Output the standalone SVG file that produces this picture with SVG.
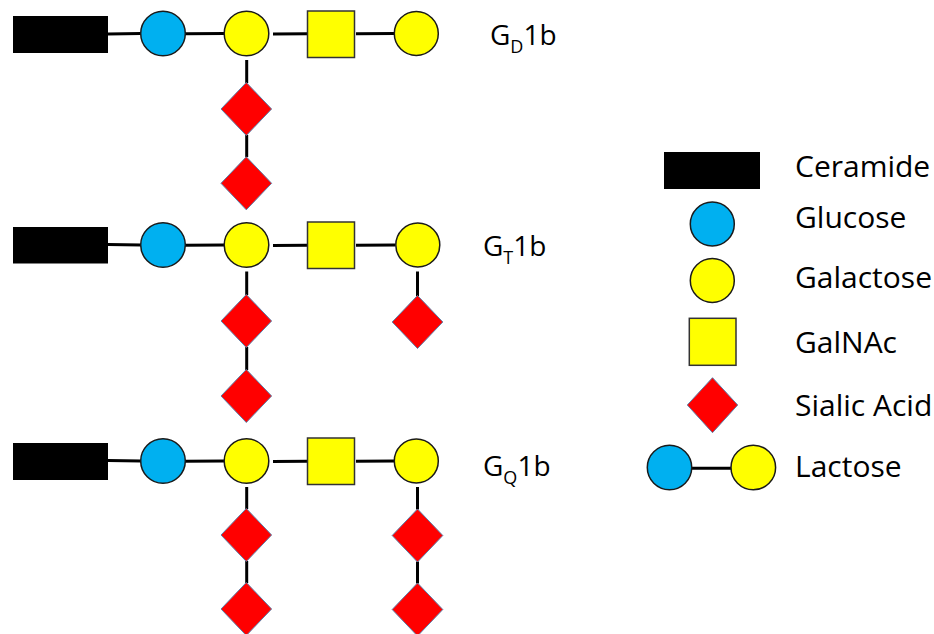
<svg xmlns="http://www.w3.org/2000/svg" width="934" height="634" viewBox="0 0 934 634">
<style>
.cer{fill:#000000;}
.glc{fill:#00B0F0;stroke:#1a1a1a;stroke-width:1.5;}
.gal{fill:#FFFF00;stroke:#1a1a1a;stroke-width:1.5;}
.nac{fill:#FFFF00;stroke:#333333;stroke-width:1.5;}
.sia{fill:#FF0000;stroke:#5B7FA8;stroke-width:1;}
.ln{stroke:#000000;stroke-width:3;fill:none;}
.lbl{font-family:"Open Sans","Liberation Sans",sans-serif;font-size:28px;fill:#000000;}
.leg{font-family:"Open Sans","Liberation Sans",sans-serif;font-size:30px;fill:#000000;}
</style>
<defs>
<polygon id="dia" points="0,-26.5 25.3,0 0,26.5 -25.3,0"/>
</defs>
<rect width="934" height="634" fill="#ffffff"/>

<!-- connectors -->
<g id="connectors">
  <g id="c-gd1b">
    <line class="ln" x1="108" y1="34" x2="141" y2="33.5"/>
    <line class="ln" x1="185" y1="33.7" x2="224" y2="33.5"/>
    <line class="ln" x1="273" y1="34" x2="307.5" y2="33.7"/>
    <line class="ln" x1="356" y1="33.7" x2="394.5" y2="33.5"/>
    <line class="ln" x1="246.7" y1="60" x2="246.7" y2="83"/>
    <line class="ln" x1="246.7" y1="135" x2="246.7" y2="157"/>
  </g>
  <g id="c-gt1b">
    <line class="ln" x1="108" y1="244.5" x2="141" y2="245"/>
    <line class="ln" x1="185" y1="245.3" x2="224" y2="245"/>
    <line class="ln" x1="273" y1="245.5" x2="307.5" y2="245.2"/>
    <line class="ln" x1="356" y1="245.2" x2="395.5" y2="245"/>
    <line class="ln" x1="246.7" y1="271.5" x2="246.7" y2="295"/>
    <line class="ln" x1="246.7" y1="347" x2="246.7" y2="370"/>
    <line class="ln" x1="417.5" y1="271.5" x2="417.5" y2="296"/>
  </g>
  <g id="c-gq1b">
    <line class="ln" x1="108" y1="460.5" x2="141" y2="461"/>
    <line class="ln" x1="185" y1="461.3" x2="224" y2="461"/>
    <line class="ln" x1="273" y1="461.5" x2="307.5" y2="461.2"/>
    <line class="ln" x1="356" y1="461.2" x2="394.5" y2="461"/>
    <line class="ln" x1="246.7" y1="487" x2="246.7" y2="509"/>
    <line class="ln" x1="246.7" y1="561" x2="246.7" y2="583"/>
    <line class="ln" x1="417.5" y1="487" x2="417.5" y2="509.5"/>
    <line class="ln" x1="417.5" y1="561.5" x2="417.5" y2="583.5"/>
  </g>
  <g id="c-legend">
    <line class="ln" x1="691.7" y1="468.3" x2="731" y2="468.3"/>
  </g>
</g>

<!-- GD1b -->
<g id="gd1b">
  <g id="gd1b-cer"><rect class="cer" x="13" y="16" width="95" height="37"/></g>
  <g id="gd1b-glc"><circle class="glc" cx="163" cy="33.5" r="22.3"/></g>
  <g id="gd1b-gal1"><circle class="gal" cx="246.5" cy="33.5" r="22.3"/></g>
  <g id="gd1b-galnac"><rect class="nac" x="307.5" y="11" width="47" height="46.5"/></g>
  <g id="gd1b-gal2"><circle class="gal" cx="416.3" cy="33.5" r="22"/></g>
  <g id="gd1b-sia1"><use href="#dia" class="sia" x="246.3" y="109"/></g>
  <g id="gd1b-sia2"><use href="#dia" class="sia" x="246.3" y="183.3"/></g>
  <g id="gd1b-label"><text class="lbl" x="490" y="45">G<tspan font-size="18" dy="8">D</tspan><tspan dy="-8">1b</tspan></text></g>
</g>

<!-- GT1b -->
<g id="gt1b">
  <g id="gt1b-cer"><rect class="cer" x="13" y="227" width="95" height="36.5"/></g>
  <g id="gt1b-glc"><circle class="glc" cx="163" cy="245" r="22.3"/></g>
  <g id="gt1b-gal1"><circle class="gal" cx="246.5" cy="245" r="22.3"/></g>
  <g id="gt1b-galnac"><rect class="nac" x="307.5" y="222" width="47" height="46.5"/></g>
  <g id="gt1b-gal2"><circle class="gal" cx="417.8" cy="245" r="22"/></g>
  <g id="gt1b-sia1"><use href="#dia" class="sia" x="246.3" y="321"/></g>
  <g id="gt1b-sia2"><use href="#dia" class="sia" x="246.3" y="396"/></g>
  <g id="gt1b-sia3"><use href="#dia" class="sia" x="417.5" y="322"/></g>
  <g id="gt1b-label"><text class="lbl" x="483" y="256">G<tspan font-size="18" dy="8">T</tspan><tspan dy="-8">1b</tspan></text></g>
</g>

<!-- GQ1b -->
<g id="gq1b">
  <g id="gq1b-cer"><rect class="cer" x="13" y="443" width="95" height="37"/></g>
  <g id="gq1b-glc"><circle class="glc" cx="163" cy="461" r="22.3"/></g>
  <g id="gq1b-gal1"><circle class="gal" cx="246.5" cy="461" r="22.3"/></g>
  <g id="gq1b-galnac"><rect class="nac" x="307.5" y="438" width="47" height="46.5"/></g>
  <g id="gq1b-gal2"><circle class="gal" cx="416.3" cy="461" r="22"/></g>
  <g id="gq1b-sia1"><use href="#dia" class="sia" x="246.3" y="535"/></g>
  <g id="gq1b-sia2"><use href="#dia" class="sia" x="246.3" y="609"/></g>
  <g id="gq1b-sia3"><use href="#dia" class="sia" x="417.5" y="535.5"/></g>
  <g id="gq1b-sia4"><use href="#dia" class="sia" x="417.5" y="609.5"/></g>
  <g id="gq1b-label"><text class="lbl" x="483" y="476">G<tspan font-size="18" dy="8">Q</tspan><tspan dy="-8">1b</tspan></text></g>
</g>

<!-- Legend -->
<g id="legend">
  <g id="leg-ceramide"><rect class="cer" x="664" y="152" width="96" height="37"/><text class="leg" x="795" y="176.7">Ceramide</text></g>
  <g id="leg-glucose"><circle class="glc" cx="712.3" cy="224" r="22"/><text class="leg" x="795" y="228.3">Glucose</text></g>
  <g id="leg-galactose"><circle class="gal" cx="712.3" cy="280.5" r="22"/><text class="leg" x="795" y="288.3">Galactose</text></g>
  <g id="leg-galnac"><rect class="nac" x="689.3" y="318.3" width="46.7" height="47"/><text class="leg" x="795" y="353.3">GalNAc</text></g>
  <g id="leg-sialic"><polygon class="sia" points="712.5,377.7 737.7,405 712.5,432.7 687.3,405"/><text class="leg" x="795" y="416">Sialic Acid</text></g>
  <g id="leg-lactose"><circle class="glc" cx="669.5" cy="467.5" r="22.2"/><circle class="gal" cx="753.3" cy="467.5" r="22.3"/><text class="leg" x="795" y="476.7">Lactose</text></g>
</g>
</svg>
